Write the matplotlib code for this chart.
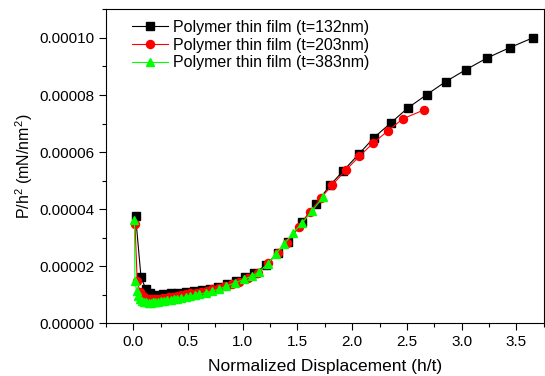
import matplotlib
matplotlib.use('Agg')
import matplotlib.pyplot as plt
from matplotlib.ticker import MultipleLocator, FormatStrFormatter

plt.rcParams['font.family'] = ['Liberation Sans', 'DejaVu Sans']
plt.rcParams['mathtext.fontset'] = 'custom'
plt.rcParams['mathtext.rm'] = 'Liberation Sans'
plt.rcParams['mathtext.it'] = 'Liberation Sans:italic'

# Data (y in units of 1e-5 mN/nm^2)
x_132 = [0.02, 0.07, 0.112, 0.152, 0.2, 0.273, 0.343, 0.412, 0.485, 0.555, 0.625,
         0.697, 0.773, 0.858, 0.94, 1.02, 1.106, 1.21, 1.32, 1.418, 1.545, 1.667,
         1.80, 1.92, 2.06, 2.2, 2.355, 2.51, 2.68, 2.855, 3.04, 3.234, 3.44, 3.655]
y_132 = [3.77, 1.62, 1.22, 1.05, 1.0, 1.02, 1.05, 1.07, 1.11, 1.13, 1.17,
         1.21, 1.28, 1.38, 1.49, 1.62, 1.75, 2.04, 2.47, 2.86, 3.56, 4.18,
         4.85, 5.35, 5.93, 6.51, 7.03, 7.55, 8.01, 8.47, 8.89, 9.30, 9.66, 10.01]

x_203 = [0.015, 0.035, 0.06, 0.085, 0.11, 0.135, 0.16, 0.185, 0.21, 0.24, 0.27,
         0.30, 0.33, 0.36, 0.40, 0.44, 0.48, 0.52, 0.57, 0.62, 0.67, 0.72, 0.78,
         0.84, 0.90, 0.97, 1.05, 1.136, 1.227, 1.318, 1.40, 1.51, 1.615, 1.712,
         1.818, 1.94, 2.064, 2.19, 2.325, 2.464, 2.658]
y_203 = [3.48, 1.5, 1.1, 0.95, 0.88, 0.85, 0.84, 0.84, 0.85, 0.86, 0.88,
         0.90, 0.92, 0.94, 0.97, 1.0, 1.02, 1.05, 1.08, 1.11, 1.15, 1.19, 1.25,
         1.31, 1.38, 1.46, 1.58, 1.75, 2.10, 2.45, 2.82, 3.38, 3.91, 4.38,
         4.85, 5.36, 5.85, 6.31, 6.74, 7.17, 7.48]

x_383 = [0.01, 0.015, 0.03, 0.045, 0.06, 0.08, 0.10, 0.12, 0.14, 0.16, 0.18, 0.2,
         0.225, 0.25, 0.28, 0.31, 0.34, 0.37, 0.40, 0.44, 0.48, 0.52, 0.56, 0.60,
         0.66, 0.72, 0.78, 0.85, 0.93, 1.01, 1.085, 1.152, 1.227, 1.30, 1.38,
         1.455, 1.545, 1.636, 1.734]
y_383 = [3.62, 1.48, 1.12, 0.95, 0.85, 0.80, 0.76, 0.74, 0.73, 0.73, 0.735, 0.74,
         0.75, 0.77, 0.79, 0.81, 0.83, 0.85, 0.87, 0.90, 0.93, 0.96, 0.99, 1.02,
         1.07, 1.13, 1.20, 1.30, 1.42, 1.54, 1.66, 1.81, 2.08, 2.43, 2.78,
         3.15, 3.52, 3.95, 4.42]

labels = ['Polymer thin film (t=132nm)', 'Polymer thin film (t=203nm)',
          'Polymer thin film (t=383nm)']

fig = plt.figure(figsize=(5.45, 3.76), dpi=100)
ax = fig.add_axes([0.1945, 0.140, 0.803, 0.835])

scale = 1e-5
ax.plot(x_132, [v * scale for v in y_132], '-s', color='black', lw=0.8,
        ms=5.2, label=labels[0])
ax.plot(x_203, [v * scale for v in y_203], '-o', color='#ff0000', lw=0.8,
        ms=5.8, label=labels[1])
ax.plot(x_383, [v * scale for v in y_383], '-^', color='#00ff00', lw=0.8,
        ms=5.8, label=labels[2])

ax.set_xlim(-0.25, 3.75)
ax.set_ylim(0, 0.00011)
ax.xaxis.set_major_locator(MultipleLocator(0.5))
ax.xaxis.set_minor_locator(MultipleLocator(0.25))
ax.yaxis.set_major_locator(MultipleLocator(0.00002))
ax.yaxis.set_minor_locator(MultipleLocator(0.00001))
ax.yaxis.set_major_formatter(FormatStrFormatter('%.5f'))
ax.xaxis.set_major_formatter(FormatStrFormatter('%.1f'))
ax.tick_params(which='major', direction='out', length=5, width=0.8, labelsize=11)
ax.tick_params(which='minor', direction='out', length=3, width=0.8)
ax.tick_params(top=False, right=False)
for s in ax.spines.values():
    s.set_linewidth(0.8)

ax.set_xlabel('Normalized Displacement (h/t)', fontsize=12.5, labelpad=7)
ax.set_ylabel('P/h$^2$ (mN/nm$^2$)', fontsize=11.5, labelpad=3)

ax.legend(loc='upper left', frameon=False, fontsize=11.5, handlelength=2.3,
          handletextpad=0.3, labelspacing=0.18, borderaxespad=0.3,
          bbox_to_anchor=(0.033, 1.003))

fig.savefig('out.png', dpi=100)
